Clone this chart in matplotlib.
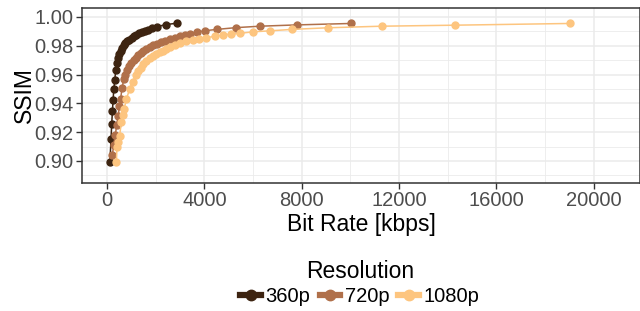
import numpy as np
import matplotlib
matplotlib.use("Agg")
import matplotlib.pyplot as plt
from matplotlib.lines import Line2D
from matplotlib.ticker import MultipleLocator

plt.rcParams['font.family'] = ['Liberation Sans', 'DejaVu Sans']

# bit rate (kbps) and SSIM per resolution
rate_360 = [120, 165, 195, 225, 250, 280, 320, 360, 400, 450, 500, 560, 620, 690, 760, 840,
            920, 1010, 1100, 1200, 1310, 1430, 1560, 1700, 1860, 2040, 2415, 2880]
ssim_360 = [0.899, 0.915, 0.926, 0.935, 0.942, 0.950, 0.956, 0.9635, 0.9680, 0.9715, 0.9742,
            0.9765, 0.9785, 0.9802, 0.9817, 0.9831, 0.9843, 0.9855, 0.9866, 0.9876, 0.9886,
            0.9896, 0.9905, 0.9913, 0.9922, 0.9932, 0.9947, 0.9957]

rate_720 = [220, 275, 340, 400, 460, 510, 560, 620, 690, 760, 840, 920, 1000, 1090, 1180, 1280,
            1390, 1500, 1620, 1750, 1890, 2040, 2200, 2380, 2570, 2780, 3000, 3200, 3400, 3710,
            4040, 4530, 5300, 6290, 7800, 10040]
ssim_720 = [0.904, 0.911, 0.918, 0.925, 0.9315, 0.938, 0.943, 0.951, 0.9566, 0.9600, 0.9630,
            0.9658, 0.9680, 0.9700, 0.9718, 0.9735, 0.9750, 0.9764, 0.9777, 0.9790, 0.9802,
            0.9813, 0.9824, 0.9834, 0.9844, 0.9854, 0.9865, 0.9875, 0.9884, 0.9895, 0.9905,
            0.9914, 0.9926, 0.9936, 0.9945, 0.9955]

rate_1080 = [386, 410, 470, 520, 590, 640, 700, 800, 930, 1050, 1180, 1280, 1385, 1500, 1620,
             1750, 1890, 2030, 2165, 2300, 2440, 2600, 2780, 2990, 3250, 3530, 3800, 4085, 4420,
             4770, 5100, 5450, 6000, 6710, 7620, 9070, 11280, 14280, 19020]
ssim_1080 = [0.899, 0.910, 0.9135, 0.9174, 0.927, 0.932, 0.936, 0.943, 0.950, 0.955, 0.9594,
             0.9622, 0.9647, 0.9673, 0.9697, 0.9712, 0.9726, 0.9741, 0.9756, 0.9767, 0.9777,
             0.9790, 0.9804, 0.9818, 0.9830, 0.9840, 0.9848, 0.9856, 0.9866, 0.9875, 0.9881,
             0.9886, 0.9897, 0.9904, 0.9914, 0.9925, 0.9936, 0.9943, 0.9955]

labels = ['360p', '720p', '1080p']
colors = ['#3d2411', '#b0704a', '#fdc57f']
series = [(rate_360, ssim_360), (rate_720, ssim_720), (rate_1080, ssim_1080)]

fig = plt.figure(figsize=(6.4, 3.11), dpi=100)
ax = fig.add_axes([0.128, 0.4116, 0.872, 0.5625])

for (x, y), c in zip(series, colors):
    ax.plot(x, y, color=c, lw=1.1, marker='o', ms=5, zorder=3)

ax.set_xlim(-1030, 21900)
ax.set_ylim(0.8847, 1.0062)
ax.xaxis.set_major_locator(MultipleLocator(4000))
ax.xaxis.set_minor_locator(MultipleLocator(2000))
ax.yaxis.set_major_locator(MultipleLocator(0.02))
ax.yaxis.set_minor_locator(MultipleLocator(0.01))
ax.yaxis.set_major_formatter(matplotlib.ticker.FormatStrFormatter('%.2f'))

ax.grid(which='major', color='#ebebeb', lw=1.1, zorder=0)
ax.grid(which='minor', color='#ebebeb', lw=0.6, zorder=0)
ax.set_axisbelow(True)

for s in ax.spines.values():
    s.set_color('#333333')
    s.set_linewidth(1.1)

ax.tick_params(which='major', length=4, width=1, color='#333333',
               labelsize=14.5, labelcolor='#4d4d4d', pad=2)
ax.tick_params(which='minor', length=0)

ax.set_xlabel('Bit Rate [kbps]', fontsize=16.5, labelpad=2)
ax.set_ylabel('SSIM', fontsize=16.5, labelpad=-1)

handles = [Line2D([], [], color=c, lw=4.5, marker='o', ms=7.5) for c in colors]
leg = fig.legend(handles, labels, title='Resolution', loc='lower center',
                 bbox_to_anchor=(0.5625, -0.035), ncol=3, frameon=False,
                 fontsize=14.5, title_fontsize=16.5, handlelength=1.0,
                 handletextpad=0.25, columnspacing=0.45, borderpad=0.3, labelspacing=0.2)

fig.savefig('out.png', dpi=100)
